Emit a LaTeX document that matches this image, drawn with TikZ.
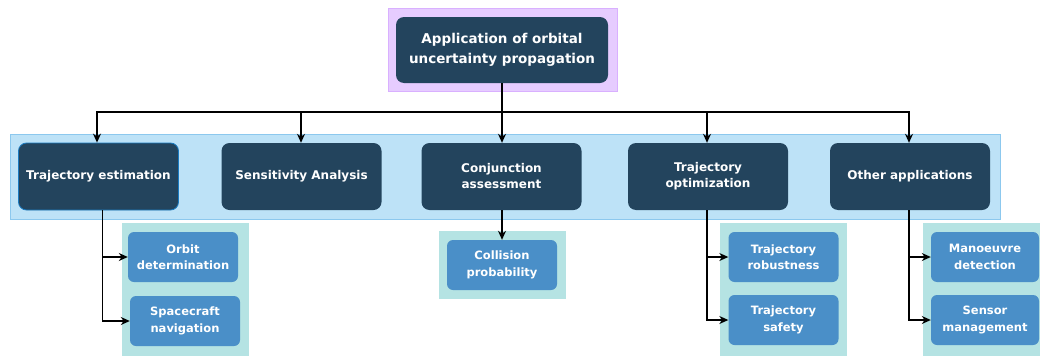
\documentclass[tikz,border=0pt]{standalone}
\usepackage{fontspec}
\setmainfont{DejaVu Sans}
\usetikzlibrary{arrows.meta}
\definecolor{darkbox}{HTML}{23445D}
\definecolor{lightbox}{HTML}{4A8FC8}
\definecolor{subbg}{HTML}{B5E3E3}
\definecolor{bandfill}{HTML}{BDE2F7}
\definecolor{banddraw}{HTML}{8CC8EE}
\definecolor{topfill}{HTML}{E6CCFF}
\definecolor{topdraw}{HTML}{D9B0FF}
\definecolor{teborder}{HTML}{1B7BC0}
\tikzset{
  mainbox/.style={rounded corners=8pt, fill=darkbox, text=white, align=center,
    font=\bfseries\fontsize{12}{16}\selectfont, minimum width=160pt, minimum height=67pt, inner sep=0pt},
  topbox/.style={mainbox, font=\bfseries\fontsize{13.5}{20}\selectfont, minimum width=212pt, minimum height=66pt},
  subbox/.style={rounded corners=6pt, fill=lightbox, text=white, align=center,
    font=\bfseries\fontsize{11.5}{16.5}\selectfont, minimum width=110pt, minimum height=50pt, inner sep=0pt},
  arr/.style={draw=black, line width=1.3pt, -{Stealth[length=9pt,width=8pt]}},
  conn/.style={draw=black, line width=1.3pt}
}
\begin{document}
\begin{tikzpicture}[x=1pt,y=-1pt]
\useasboundingbox (0,0) rectangle (1040,356);
% backgrounds
\fill[topfill, draw=topdraw, line width=1pt] (388,8) rectangle (617,91);
\fill[bandfill, draw=banddraw, line width=1pt] (10,134) rectangle (1000,219);
\fill[subbg] (122,223) rectangle (249,356);
\fill[subbg] (439,231) rectangle (566,299);
\fill[subbg] (720,223) rectangle (847,356);
\fill[subbg] (923,223) rectangle (1040,356);
% nodes
\node[topbox] (top) at (502,50) {Application of orbital\\uncertainty propagation};
\node[mainbox, draw=teborder, line width=0.8pt] (te) at (98.5,176.5) {Trajectory estimation};
\node[mainbox] (sa) at (301.5,176.5) {Sensitivity Analysis};
\node[mainbox] (ca) at (501.5,176.5) {Conjunction\\assessment};
\node[mainbox] (to) at (708,176.5) {Trajectory\\optimization};
\node[mainbox] (oa) at (910,176.5) {Other applications};
\node[subbox] (od) at (183,257) {Orbit\\determination};
\node[subbox] (sn) at (185,321) {Spacecraft\\navigation};
\node[subbox] (cp) at (502,265) {Collision\\probability};
\node[subbox] (tr) at (783.5,257) {Trajectory\\robustness};
\node[subbox] (ts) at (783.5,320) {Trajectory\\safety};
\node[subbox, minimum width=108pt] (md) at (985,257) {Manoeuvre\\detection};
\node[subbox, minimum width=108pt] (sm) at (985,320) {Sensor\\management};
% connectors
\coordinate (hub) at (502,112);
\draw[conn] (top.south) -- (hub);
\draw[arr] (hub) -| ([xshift=-1.5pt]te.north);
\draw[arr] (hub) -| ([xshift=-0.5pt]sa.north);
\draw[arr] (hub) -- ([xshift=0.5pt]ca.north);
\draw[arr] (hub) -| ([xshift=-1pt]to.north);
\draw[arr] (hub) -| ([xshift=-1pt]oa.north);
\draw[arr] ([xshift=4pt]te.south) |- (od.west);
\draw[arr] ([xshift=4pt]te.south) |- (sn.west);
\draw[arr] ([xshift=0.5pt]ca.south) -- (cp.north);
\draw[arr] ([xshift=-1pt]to.south) |- (tr.west);
\draw[arr] ([xshift=-1pt]to.south) |- (ts.west);
\draw[arr] ([xshift=-1pt]oa.south) |- (md.west);
\draw[arr] ([xshift=-1pt]oa.south) |- (sm.west);
\end{tikzpicture}
\end{document}
